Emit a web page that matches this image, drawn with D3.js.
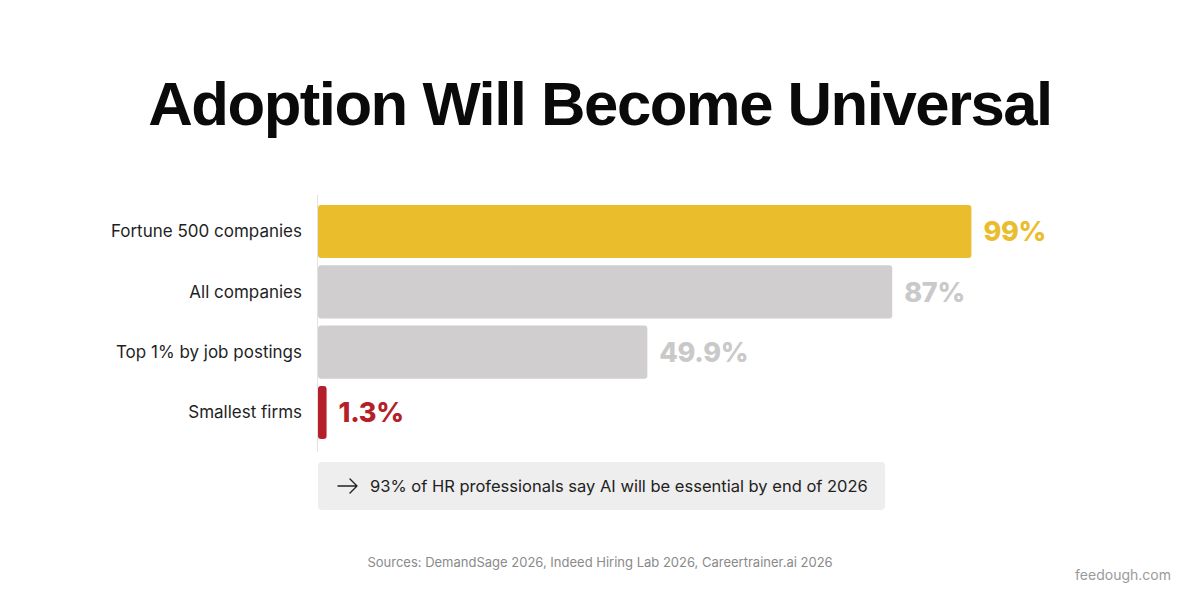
<!DOCTYPE html>
<html>
<head>
<meta charset="utf-8">
<script src="https://cdn.jsdelivr.net/npm/d3@7"></script>
<style>
  html, body { margin: 0; padding: 0; background: #fff; }
  svg { display: block; }
</style>
</head>
<body>
<div id="chart"></div>
<script>
// datos del gráfico
const categories = ["Fortune 500 companies", "All companies", "Top 1% by job postings", "Smallest firms"];
const values = [99, 87, 49.9, 1.3];
const valueLabels = ["99%", "87%", "49.9%", "1.3%"];
const barColors = ["#EABD2C", "#D0CECF", "#D0CECF", "#B51F2A"];
const labelColors = ["#EABD2C", "#C9C9C9", "#C9C9C9", "#B51F2A"];

const titleText = "Adoption Will Become Universal";
const noteText = "93% of HR professionals say AI will be essential by end of 2026";
const sourceText = "Sources: DemandSage 2026, Indeed Hiring Lab 2026, Careertrainer.ai 2026";
const brandText = "feedough.com";

const width = 1200, height = 600;
const axisX = 318;

const svg = d3.select("#chart").append("svg")
  .attr("width", width)
  .attr("height", height);

svg.append("rect").attr("width", width).attr("height", height).attr("fill", "#fff");

// ajustar un texto a un ancho dado
function fitWidth(sel, base, target) {
  const w = sel.node().getComputedTextLength();
  sel.attr("font-size", base * target / w);
}

// título
const title = svg.append("text")
  .attr("x", width / 2)
  .attr("y", 125)
  .attr("text-anchor", "middle")
  .attr("font-family", "'Liberation Sans', Arial, sans-serif")
  .attr("font-weight", 700)
  .attr("font-size", 72)
  .attr("letter-spacing", -1.5)
  .attr("fill", "#0a0a0a")
  .text(titleText);
fitWidth(title, 72, 910);

// escalas
const x = d3.scaleLinear().domain([0, 100]).range([0, 660]);
const y = d3.scaleBand().domain(categories).range([205, 439]).paddingInner(0.12).paddingOuter(0);

// línea del eje
svg.append("line")
  .attr("x1", axisX - 0.5).attr("x2", axisX - 0.5)
  .attr("y1", 195).attr("y2", 452)
  .attr("stroke", "#e2e2e2").attr("stroke-width", 1);

const rows = svg.append("g").selectAll("g")
  .data(categories)
  .join("g");

rows.append("rect")
  .attr("x", axisX)
  .attr("y", d => y(d))
  .attr("width", (d, i) => x(values[i]))
  .attr("height", y.bandwidth())
  .attr("rx", 3)
  .attr("fill", (d, i) => barColors[i]);

rows.append("text")
  .attr("x", 302)
  .attr("y", d => y(d) + y.bandwidth() / 2)
  .attr("dy", "0.35em")
  .attr("text-anchor", "end")
  .attr("font-family", "Inter, 'Noto Sans', sans-serif")
  .attr("font-size", 17)
  .attr("fill", "#1f1f1f")
  .text(d => d);

rows.append("text")
  .attr("x", (d, i) => axisX + x(values[i]) + 12)
  .attr("y", d => y(d) + y.bandwidth() / 2)
  .attr("dy", "0.36em")
  .attr("font-family", "Inter, 'Noto Sans', sans-serif")
  .attr("font-weight", 800)
  .attr("font-size", 27)
  .attr("letter-spacing", -0.3)
  .attr("fill", (d, i) => labelColors[i])
  .text((d, i) => valueLabels[i]);

// nota
const note = svg.append("g");
note.append("rect")
  .attr("x", axisX).attr("y", 462)
  .attr("width", 567).attr("height", 48)
  .attr("rx", 4)
  .attr("fill", "#EEEEEE");
note.append("path")
  .attr("d", "M338,486H357M350,479L357,486L350,493")
  .attr("fill", "none")
  .attr("stroke", "#222")
  .attr("stroke-width", 1.4)
  .attr("stroke-linecap", "round")
  .attr("stroke-linejoin", "round");
const noteLabel = note.append("text")
  .attr("x", 370).attr("y", 486)
  .attr("dy", "0.35em")
  .attr("font-family", "Inter, 'Noto Sans', sans-serif")
  .attr("font-size", 17)
  .attr("fill", "#222")
  .text(noteText);
fitWidth(noteLabel, 17, 498);

// fuentes y marca
svg.append("text")
  .attr("x", 600).attr("y", 562)
  .attr("dy", "0.35em")
  .attr("text-anchor", "middle")
  .attr("font-family", "Inter, 'Noto Sans', sans-serif")
  .attr("font-size", 13)
  .attr("fill", "#8a8a8a")
  .text(sourceText);

svg.append("text")
  .attr("x", 1171).attr("y", 575)
  .attr("dy", "0.35em")
  .attr("text-anchor", "end")
  .attr("font-family", "Inter, 'Noto Sans', sans-serif")
  .attr("font-size", 14)
  .attr("fill", "#9a9a9a")
  .text(brandText);
</script>
</body>
</html>
